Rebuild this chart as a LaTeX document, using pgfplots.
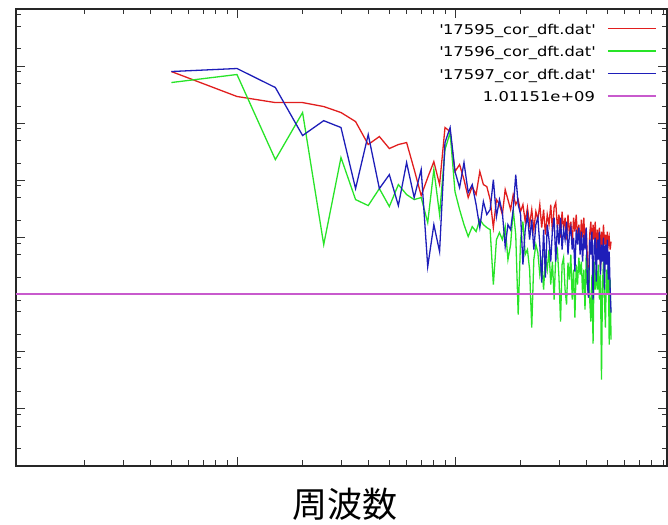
\documentclass[border=0pt]{standalone}
\usepackage{fontspec}
\setmainfont{DejaVu Sans}
\newfontfamily\legfont[FakeStretch=1.21]{DejaVu Sans}
\newfontfamily\cjk{Noto Sans CJK JP}
\usepackage{pgfplots}
\pgfplotsset{compat=1.18}
\definecolor{cred}{RGB}{225,30,30}
\definecolor{cgreen}{RGB}{40,228,40}
\definecolor{cblue}{RGB}{30,30,185}
\definecolor{cmag}{RGB}{200,90,205}
\begin{document}
\begin{tikzpicture}
\useasboundingbox (-16pt,-58pt) rectangle (652pt,466pt);
\begin{axis}[
  at={(0pt,0pt)}, anchor=south west,
  scale only axis, width=651pt, height=457pt,
  xmode=log, ymode=log,
  xmin=0.0969, xmax=93.9, ymin=1e6, ymax=1e14,
  xtick={1,10},
  minor xtick={0.2,0.3,0.4,0.5,0.6,0.7,0.8,0.9,2,3,4,5,6,7,8,9,20,30,40,50,60,70,80,90},
  ytick={1e6,1e7,1e8,1e9,1e10,1e11,1e12,1e13,1e14},
  minor ytick={2e6,5e6,8e6,2e7,5e7,8e7,2e8,5e8,8e8,2e9,5e9,8e9,2e10,5e10,8e10,2e11,5e11,8e11,2e12,5e12,8e12,2e13,5e13,8e13},
  xticklabel=\empty, yticklabel=\empty,
  xtick pos=both, ytick pos=both,
  tick align=inside,
  major tick length=9pt, minor tick length=5.5pt,
  every tick/.style={line width=0.9pt, black!80},
  axis line style={line width=1.2pt, black!85},
  xlabel={\cjk\fontsize{35}{40}\selectfont 周波数},
  xlabel style={at={(axis description cs:0.5,0)}, anchor=base, yshift=-51.5pt, xshift=3.5pt, inner sep=0pt},
  legend cell align=right,
  legend plot pos=right,
  legend style={at={(1,1)}, anchor=north east, xshift=-10pt, yshift=-14pt,
    draw=none, fill=none, inner sep=0pt, row sep=8.6pt,
    font=\legfont\fontsize{13.5}{16}\selectfont,
    nodes={inner sep=0pt, text height=11pt, text depth=3pt},
    /tikz/every odd column/.append style={column sep=12pt}},
  legend image code/.code={\draw[#1] (0pt,1.7pt) -- (48pt,1.7pt);},
]
\addplot[cred, line width=1.3pt] coordinates {
(0.5,8.04e12) (1,2.94e12) (1.5,2.30e12) (2,2.30e12) (2.5,1.96e12) (3,1.54e12) (3.5,1.07e12) (4,4.24e11) (4.5,5.85e11) (5,3.61e11)
(5.5,4.24e11) (6,4.59e11) (6.5,1.55e11) (7,5.42e10) (7.5,1.12e11) (8,2.13e11) (8.5,8.44e10) (9,8.41e11) (9.5,7.16e11) (10,1.43e11)
(10.5,1.89e11) (11,1.03e11) (11.5,5.00e10) (12,7.78e10) (12.5,5.64e10) (13,1.43e11) (13.5,8.44e10) (14,7.78e10) (14.5,4.61e10) (15,1.49e10)
(15.5,4.61e10) (16,3.77e10) (16.5,2.52e10) (17,6.90e10) (17.5,4.61e10) (18,3.08e10) (18.5,5.64e10) (19,3.77e10) (19.5,4.61e10) (20,2.84e10)
(20.5,3.77e10) (21,1.90e10) (21.5,3.34e10) (22,1.68e10) (22.5,3.08e10) (23,1.37e10) (23.5,2.84e10) (24,2.06e10) (24.5,3.77e10) (25,1.49e10)
(25.5,3.08e10) (26,1.12e10) (26.5,2.52e10) (27,1.68e10) (27.5,3.77e10) (28,1.27e10) (28.5,3.34e10) (29,4.08e10) (29.5,1.49e10) (30,2.52e10)
(30.5,9.96e9) (31,2.84e10) (31.5,1.37e10) (32,2.23e10) (32.5,9.19e9) (33,2.52e10) (33.5,1.12e10) (34,1.90e10) (34.5,7.52e9) (35,2.23e10)
(35.5,1.27e10) (36,2.52e10) (36.5,9.19e9) (37,1.68e10) (37.5,6.14e9) (38,2.06e10) (38.5,9.96e9) (39,2.23e10) (39.5,7.52e9) (40,1.49e10)
(40.5,4.10e9) (41,8.86e8) (41.5,1.12e10) (42,1.90e10) (42.5,6.65e9) (43,1.68e10) (43.5,9.19e9) (44,1.90e10) (44.5,5.02e9) (45,1.37e10)
(45.5,7.52e9) (46,1.49e10) (46.5,2.74e9) (47,1.27e10) (47.5,6.65e9) (48,1.68e10) (48.5,7.52e9) (49,1.12e10) (49.5,6.14e9) (50,1.27e10)
(50.5,7.52e9) (51,9.96e9) (51.5,6.14e9) (52,8.47e9)
};
\addlegendentry{\textquotesingle 17595\_cor\_dft.dat\textquotesingle}
\addplot[cgreen, line width=1.3pt] coordinates {
(0.5,5.16e12) (1,7.13e12) (1.5,2.31e11) (2,1.54e12) (2.5,7.52e9) (3,2.51e11) (3.5,4.61e10) (4,3.62e10) (4.5,7.18e10) (5,3.48e10)
(5.5,8.44e10) (6,5.64e10) (6.5,4.61e10) (7,5.00e10) (7.5,1.82e10) (8,1.55e11) (8.5,2.52e10) (9,3.46e11) (9.5,6.87e11) (10,6.37e10)
(10.5,3.08e10) (11,1.68e10) (11.5,1.04e10) (12,1.55e10) (12.5,1.27e10) (13,2.06e10) (13.5,1.68e10) (14,1.49e10) (14.5,1.37e10) (15,1.50e9)
(15.5,9.19e9) (16,1.22e10) (16.5,9.19e9) (17,1.55e10) (17.5,4.10e9) (18,7.52e9) (18.5,3.08e10) (19,1.12e10) (19.5,4.47e8) (20,9.19e9)
(20.5,1.90e10) (21,5.02e9) (21.5,6.14e9) (22,2.74e9) (22.5,2.64e8) (23,4.10e9) (23.5,7.52e9) (24,5.44e9) (24.5,2.24e9) (25,3.78e9)
(25.5,1.22e9) (26,4.45e9) (26.5,2.74e9) (27,6.14e9) (27.5,1.50e9) (28,3.78e9) (28.5,8.17e8) (29,5.02e9) (29.5,6.14e9) (30,1.98e9)
(30.5,3.37e8) (31,3.35e9) (31.5,4.45e9) (32,1.22e9) (32.5,6.68e8) (33,3.63e9) (33.5,1.83e9) (34,5.02e9) (34.5,8.17e8) (35,2.74e9)
(35.5,3.95e8) (36,3.35e9) (36.5,1.50e9) (37,4.45e9) (37.5,2.24e9) (38,3.78e9) (38.5,1.00e9) (39,2.74e9) (39.5,5.46e8) (40,5.02e9)
(40.5,1.50e9) (41,2.97e9) (41.5,8.17e8) (42,3.37e8) (42.5,2.24e9) (43,1.39e8) (43.5,3.78e9) (44,1.22e9) (44.5,2.74e9) (45,1.22e9)
(45.5,3.35e9) (46,8.17e8) (46.5,2.24e9) (47,3.25e7) (47.5,1.50e9) (48,3.78e9) (48.5,8.17e8) (49,2.64e8) (49.5,2.74e9) (50,1.00e9)
(50.5,3.78e9) (51,1.33e8) (51.5,1.83e9) (52,1.63e8)
};
\addlegendentry{\textquotesingle 17596\_cor\_dft.dat\textquotesingle}
\addplot[cblue, line width=1.3pt] coordinates {
(0.5,8.04e12) (1,9.08e12) (1.5,4.22e12) (2,6.09e11) (2.5,1.11e12) (3,8.41e11) (3.5,7.18e10) (4,6.34e11) (4.5,7.18e10) (5,1.26e11)
(5.5,3.62e10) (6,2.05e11) (6.5,5.00e10) (7,1.55e11) (7.5,3.09e9) (8,1.68e10) (8.5,5.66e9) (9,4.59e11) (9.5,8.41e11) (10,1.43e11)
(10.5,7.48e10) (11,2.05e11) (11.5,6.11e10) (12,8.44e10) (12.5,3.77e10) (13,1.49e10) (13.5,4.26e10) (14,2.52e10) (14.5,3.08e10) (15,1.03e11)
(15.5,2.32e10) (16,4.61e10) (16.5,2.73e10) (17,6.93e9) (17.5,1.68e10) (18,1.37e10) (18.5,3.08e10) (19,1.26e11) (19.5,3.77e10) (20,2.52e10)
(20.5,3.35e9) (21,1.37e10) (21.5,2.52e10) (22,9.19e9) (22.5,2.06e10) (23,6.14e9) (23.5,1.68e10) (24,2.23e10) (24.5,7.52e9) (25,1.62e9)
(25.5,1.37e10) (26,1.98e9) (26.5,1.68e10) (27,9.19e9) (27.5,3.78e9) (28,1.37e10) (28.5,2.23e10) (29,3.78e9) (29.5,1.68e10) (30,7.52e9)
(30.5,2.23e10) (31,6.14e9) (31.5,1.37e10) (32,9.19e9) (32.5,1.90e10) (33,5.02e9) (33.5,1.12e10) (34,1.49e10) (34.5,6.14e9) (35,9.96e9)
(35.5,2.53e9) (36,1.37e10) (36.5,7.52e9) (37,1.49e10) (37.5,5.02e9) (38,1.27e10) (38.5,3.78e9) (39,1.12e10) (39.5,6.14e9) (40,1.49e10)
(40.5,1.50e9) (41,8.86e8) (41.5,9.19e9) (42,5.02e9) (42.5,1.27e10) (43,8.17e8) (43.5,7.52e9) (44,9.96e9) (44.5,1.69e9) (45,9.19e9)
(45.5,4.10e9) (46,1.27e10) (46.5,2.24e9) (47,7.52e9) (47.5,3.78e9) (48,9.96e9) (48.5,1.22e9) (49,7.52e9) (49.5,3.35e9) (50,9.19e9)
(50.5,1.83e9) (51,5.66e9) (51.5,1.22e9) (52,4.84e8)
};
\addlegendentry{\textquotesingle 17597\_cor\_dft.dat\textquotesingle}
\addplot[cmag, line width=1.8pt] coordinates {(0.0969,1.01151e9) (93.9,1.01151e9)};
\addlegendentry{1.01151e+09}
\end{axis}
\end{tikzpicture}
\end{document}
